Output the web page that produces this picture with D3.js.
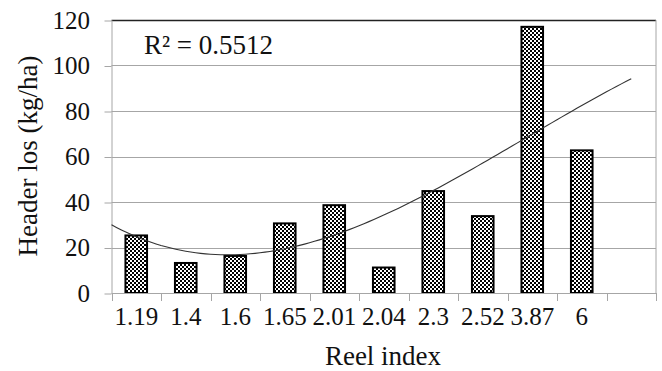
<!DOCTYPE html>
<html><head><meta charset="utf-8">
<script src="https://cdn.jsdelivr.net/npm/d3@7"></script>
<style>body{margin:0;background:#fff}svg{display:block}</style>
</head><body><svg id="c" width="662" height="371"></svg>
<script>
const categories = ["1.19","1.4","1.6","1.65","2.01","2.04","2.3","2.52","3.87","6",""];
const values = [25.3,13.2,16.3,30.6,38.6,11.2,44.8,33.8,117,62.7];
const yTicks = [0,20,40,60,80,100,120];
const r2Label = "R² = 0.5512";

const FONT = "'Liberation Serif', Tinos, 'Times New Roman', 'DejaVu Serif', serif";
const svg = d3.select("#c").style("font-family", FONT);
const m = {l:111.5, r:656, t:20, b:293};
const x = d3.scaleBand().domain(d3.range(categories.length)).range([m.l, m.r]).paddingInner(0).paddingOuter(0);
const y = d3.scaleLinear().domain([0,120]).range([m.b, m.t]);
const bw = x.bandwidth();

const defs = svg.append("defs");
const p = defs.append("pattern").attr("id","chk").attr("patternUnits","userSpaceOnUse").attr("width",4).attr("height",4);
p.append("rect").attr("width",4).attr("height",4).attr("fill","#fff");
p.append("rect").attr("width",2).attr("height",2).attr("fill","#000");
p.append("rect").attr("x",2).attr("y",2).attr("width",2).attr("height",2).attr("fill","#000");

svg.append("g").selectAll("line").data(yTicks.filter(d=>d>0 && d<120)).join("line")
  .attr("x1",m.l).attr("x2",m.r).attr("y1",d=>Math.round(y(d))+0.5).attr("y2",d=>Math.round(y(d))+0.5)
  .attr("stroke","#a6a6a6").attr("stroke-width",1);
svg.append("line").attr("x1",m.l).attr("x2",m.r).attr("y1",y(120)+0.5).attr("y2",y(120)+0.5).attr("stroke","#222").attr("stroke-width",1.3);
svg.append("line").attr("x1",m.r).attr("x2",m.r).attr("y1",m.t).attr("y2",m.b).attr("stroke","#a6a6a6");

const ya = d3.axisLeft(y).tickValues(yTicks).tickSize(7).tickPadding(14.5).tickSizeOuter(0);
const gy = svg.append("g").attr("transform",`translate(${m.l},0)`).call(ya);
gy.attr("font-family",FONT).attr("font-size",25);
gy.select(".domain").attr("stroke","#a6a6a6");
gy.selectAll(".tick line").attr("stroke","#a6a6a6").attr("transform","translate(0,0.5)");
gy.selectAll("text").style("font-family",FONT).attr("fill","#111").attr("dy","0.33em");

svg.append("g").selectAll("rect").data(values).join("rect")
  .attr("x",(d,i)=>x(i)+bw*0.5-10.8).attr("width",21.6)
  .attr("y",d=>y(d)).attr("height",d=>y(0)-y(d))
  .attr("fill","url(#chk)").attr("stroke","#000").attr("stroke-width",2);

const xa = d3.axisBottom(x).tickFormat(i=>categories[i]).tickSize(0).tickPadding(0);
const gx = svg.append("g").attr("transform",`translate(0,${m.b+0.5})`).call(xa);
gx.attr("font-family",FONT).attr("font-size",25);
gx.select(".domain").remove();
gx.selectAll("text").style("font-family",FONT).attr("fill","#111").attr("y",31.5).attr("dy",0);
svg.append("line").attr("x1",m.l).attr("x2",m.r).attr("y1",m.b+0.5).attr("y2",m.b+0.5).attr("stroke","#a6a6a6");
svg.append("g").selectAll("line").data(d3.range(categories.length+1)).join("line")
  .attr("x1",i=>Math.round(i<categories.length?x(i):m.r)+0.5).attr("x2",i=>Math.round(i<categories.length?x(i):m.r)+0.5)
  .attr("y1",m.b).attr("y2",m.b+8).attr("stroke","#a6a6a6");

const n = values.length;
const xs = d3.range(1,n+1);
function polyfit(deg){
  const N=deg+1;
  const S=Array.from({length:N},()=>Array(N).fill(0)), B=Array(N).fill(0);
  xs.forEach((xi,k)=>{const v=d3.range(N).map(j=>Math.pow(xi,j));for(let a=0;a<N;a++){B[a]+=v[a]*values[k];for(let b=0;b<N;b++)S[a][b]+=v[a]*v[b];}});
  const A=S.map((r,i)=>[...r,B[i]]);
  for(let i=0;i<N;i++){for(let j=i+1;j<N;j++){const f=A[j][i]/A[i][i];for(let k=i;k<=N;k++)A[j][k]-=f*A[i][k];}}
  const c=Array(N).fill(0);
  for(let i=N-1;i>=0;i--){let s=A[i][N];for(let k=i+1;k<N;k++)s-=A[i][k]*c[k];c[i]=s/A[i][i];}
  return c;
}
const c = polyfit(3);
const f = v => c.reduce((s,ck,j)=>s+ck*Math.pow(v,j),0);
const xc = v => m.l + (v-0.5)*bw;
const pts = d3.range(0.5, 11.0001, 0.1).map(v=>[xc(v), y(f(v))]);
svg.append("path").attr("d",d3.line()(pts)).attr("fill","none").attr("stroke","#333").attr("stroke-width",1.1);

const T = (sel,fs)=>sel.style("font-family",FONT).attr("font-size",fs).attr("fill","#111");
T(svg.append("text").attr("x",144).attr("y",54).text(r2Label),27);
T(svg.append("text").attr("x",383).attr("y",365).attr("text-anchor","middle").text("Reel index"),27);
T(svg.append("text").attr("transform","translate(37,156) rotate(-90)").attr("text-anchor","middle").text("Header los (kg/ha)"),27);
</script></body></html>
